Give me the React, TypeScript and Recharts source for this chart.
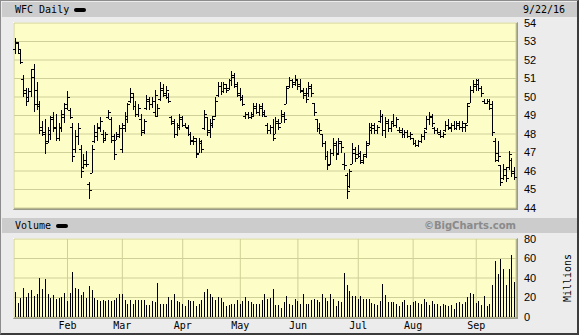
import React from "react";
import { ComposedChart, Bar, XAxis, YAxis, CartesianGrid } from "recharts";

// WFC daily, Jan 4 - Sep 22 2016 (one entry per trading day)
const OPEN = [
  52.6, 52.9, 52.4, 51.0, 50.2, 50.0, 50.3, 51.5, 50.4, 49.5,
  48.4, 48.0, 47.6, 48.0, 48.9, 48.4, 47.8, 48.3, 48.9, 49.4,
  49.3, 48.4, 47.2, 47.9, 47.2, 46.2, 46.4, 45.3, 45.9, 47.6,
  47.9, 48.3, 48.0, 47.8, 48.9, 48.8, 47.9, 47.7, 47.9, 47.2,
  48.3, 48.8, 49.8, 50.0, 49.5, 49.1, 48.8, 48.2, 49.4, 49.8,
  49.6, 49.2, 49.0, 49.9, 50.4, 50.1, 50.0, 48.9, 48.6, 48.0,
  48.4, 48.8, 48.5, 48.3, 48.0, 47.7, 47.6, 47.0, 47.5, 48.3,
  48.9, 48.2, 48.5, 49.0, 50.1, 50.6, 50.3, 50.5, 50.5, 50.9,
  51.1, 50.6, 50.1, 49.9, 49.0, 49.1, 48.9, 49.0, 49.4, 49.2,
  49.4, 49.2, 48.5, 48.2, 48.4, 48.0, 48.6, 48.6, 49.0, 49.6,
  50.6, 50.9, 50.8, 50.9, 50.7, 50.3, 50.2, 50.2, 50.5, 49.7,
  48.8, 48.3, 48.0, 47.5, 46.8, 46.4, 47.0, 47.4, 47.0, 47.5,
  46.4, 45.8, 45.2, 46.4, 47.0, 46.7, 46.8, 46.5, 46.9, 47.5,
  48.2, 48.3, 48.2, 48.7, 49.0, 48.2, 48.6, 48.3, 48.7, 48.5,
  48.2, 48.2, 48.0, 48.1, 47.9, 47.8, 47.5, 47.4, 47.6, 47.9,
  48.3, 48.8, 48.9, 48.3, 48.2, 48.0, 47.9, 48.2, 48.5, 48.3,
  48.5, 48.3, 48.5, 48.4, 48.4, 48.6, 49.7, 50.4, 50.6, 50.7,
  50.5, 49.8, 49.7, 49.8, 49.6, 47.6, 47.0, 46.3, 45.6, 45.8,
  46.2, 46.6, 46.0,
];

const HIGH = [
  53.2, 53.0, 52.6, 51.2, 50.5, 50.5, 51.5, 51.8, 50.8, 49.8,
  48.7, 48.8, 48.4, 49.0, 49.2, 49.1, 48.6, 49.3, 49.7, 50.3,
  49.4, 48.6, 48.2, 48.6, 47.4, 46.9, 47.1, 45.4, 47.4, 48.5,
  48.6, 48.9, 48.2, 48.1, 49.3, 48.9, 48.0, 48.1, 48.5, 48.6,
  49.2, 49.7, 50.5, 50.2, 49.8, 49.6, 49.1, 48.8, 50.1, 50.0,
  50.0, 50.4, 49.6, 50.8, 50.7, 50.6, 50.2, 49.0, 48.8, 48.6,
  49.1, 49.0, 48.6, 48.5, 48.1, 47.9, 47.8, 47.8, 47.7, 49.3,
  48.9, 48.8, 49.0, 50.0, 50.8, 50.8, 50.8, 50.7, 51.0, 51.4,
  51.3, 50.8, 50.5, 50.1, 49.2, 49.2, 49.2, 49.7, 49.7, 49.6,
  49.7, 49.3, 48.6, 48.5, 48.8, 48.9, 48.8, 49.3, 49.2, 50.6,
  51.1, 51.0, 51.2, 51.0, 51.0, 50.5, 50.5, 50.8, 50.7, 49.7,
  48.8, 48.6, 48.0, 47.6, 47.1, 47.2, 47.8, 47.6, 47.8, 47.6,
  47.0, 45.9, 46.1, 47.5, 47.3, 47.4, 47.1, 46.9, 47.6, 48.6,
  48.6, 48.6, 48.5, 49.3, 49.1, 48.9, 48.8, 48.7, 49.1, 48.9,
  48.4, 48.3, 48.2, 48.2, 48.1, 47.8, 47.7, 47.7, 48.0, 48.2,
  49.0, 49.2, 49.1, 48.4, 48.3, 48.2, 48.1, 48.7, 48.8, 48.6,
  48.7, 48.7, 48.7, 48.7, 48.6, 49.7, 50.6, 50.9, 51.0, 51.0,
  50.6, 49.9, 49.9, 49.9, 49.8, 47.8, 47.6, 46.3, 46.4, 46.2,
  47.1, 46.7, 46.2,
];

const LOW = [
  52.3, 52.4, 51.8, 50.0, 49.5, 49.8, 50.0, 49.2, 49.3, 48.0,
  47.9, 46.9, 47.5, 47.7, 48.1, 47.6, 47.6, 48.1, 48.6, 49.3,
  48.8, 46.5, 47.0, 47.4, 45.6, 46.1, 46.2, 44.5, 45.9, 47.5,
  47.6, 48.1, 47.5, 47.7, 48.8, 47.5, 46.6, 47.7, 47.8, 47.0,
  48.1, 48.6, 49.7, 49.3, 48.9, 48.9, 47.9, 48.0, 49.3, 49.3,
  49.4, 48.9, 48.9, 49.8, 50.0, 49.9, 49.7, 48.5, 47.8, 47.9,
  48.2, 48.4, 48.3, 47.9, 47.4, 47.4, 46.7, 47.0, 47.0, 48.2,
  47.9, 47.8, 48.3, 48.9, 50.0, 50.1, 50.2, 50.2, 50.4, 50.6,
  50.5, 50.0, 49.8, 49.5, 48.8, 48.8, 48.8, 48.9, 49.1, 49.0,
  48.9, 48.9, 48.0, 48.0, 47.6, 48.0, 48.2, 48.6, 48.6, 49.6,
  50.5, 50.5, 50.6, 50.4, 50.2, 49.9, 49.7, 50.0, 50.0, 49.0,
  48.1, 48.0, 47.3, 46.6, 46.05, 46.3, 46.8, 46.6, 46.9, 47.0,
  46.05, 44.5, 45.1, 46.4, 46.5, 46.7, 46.4, 46.4, 46.7, 47.4,
  48.0, 48.0, 48.0, 48.6, 47.9, 47.8, 48.1, 48.1, 48.4, 48.3,
  48.05, 47.8, 47.8, 47.8, 47.7, 47.4, 47.3, 47.3, 47.5, 47.7,
  48.2, 48.5, 48.4, 48.0, 48.0, 47.8, 47.8, 48.1, 48.2, 48.1,
  48.2, 48.2, 48.2, 48.1, 48.1, 48.6, 49.7, 50.2, 50.3, 50.3,
  50.0, 49.6, 49.6, 49.3, 47.9, 46.5, 46.5, 45.2, 45.5, 45.4,
  46.05, 45.7, 45.5,
];

const CLOSE = [
  53.0, 52.6, 51.9, 50.4, 49.8, 50.3, 51.1, 49.6, 49.6, 48.2,
  48.1, 47.5, 48.2, 48.8, 48.3, 47.8, 48.4, 49.1, 49.6, 50.0,
  48.9, 46.8, 47.9, 48.3, 46.0, 46.6, 46.4, 45.0, 47.2, 48.1,
  48.4, 48.7, 47.7, 48.0, 49.2, 47.7, 46.9, 48.0, 48.3, 48.5,
  49.0, 49.6, 50.2, 49.5, 49.1, 49.4, 48.1, 48.7, 49.9, 49.6,
  49.8, 50.1, 49.4, 50.5, 50.2, 50.4, 49.8, 48.7, 48.0, 48.5,
  48.9, 48.5, 48.4, 48.0, 47.6, 47.8, 46.9, 47.6, 47.2, 49.1,
  48.1, 48.6, 48.8, 49.8, 50.6, 50.3, 50.7, 50.4, 50.9, 51.2,
  50.7, 50.2, 50.0, 49.6, 49.1, 48.9, 49.1, 49.5, 49.2, 49.5,
  49.1, 49.0, 48.2, 48.4, 47.8, 48.7, 48.4, 49.1, 48.8, 50.5,
  50.9, 50.7, 51.0, 50.6, 50.4, 50.1, 49.9, 50.6, 50.2, 49.2,
  48.3, 48.2, 47.5, 46.8, 46.3, 47.0, 47.5, 46.9, 47.6, 47.3,
  46.3, 44.9, 46.0, 47.2, 46.9, 47.0, 46.6, 46.8, 47.4, 48.4,
  48.5, 48.2, 48.4, 49.0, 48.2, 48.7, 48.3, 48.6, 48.5, 48.8,
  48.1, 48.0, 48.1, 47.9, 48.0, 47.5, 47.4, 47.6, 47.9, 48.1,
  48.8, 49.0, 48.6, 48.2, 48.1, 47.9, 48.0, 48.5, 48.4, 48.5,
  48.3, 48.6, 48.4, 48.6, 48.5, 49.5, 50.4, 50.7, 50.9, 50.5,
  50.2, 49.7, 49.8, 49.4, 48.1, 46.6, 46.8, 45.4, 46.1, 45.6,
  46.9, 45.9, 45.7,
];

// volume in millions of shares
const VOLUME = [
  25.7, 14.4, 19.5, 29.8, 20.5, 24.7, 28, 21.2, 23.3, 40,
  29, 39, 23.6, 19.5, 22.3, 18.5, 19.5, 20.2, 24.7, 16,
  24.7, 46.2, 29.8, 28.8, 22.3, 25.3, 19.5, 31.8, 27.4, 19.2,
  17.1, 16.8, 17.8, 16, 17.1, 16, 17.8, 19.5, 23.3, 23.3,
  17.1, 13, 17.1, 13, 17.1, 17.1, 17.1, 17.1, 12.3, 12.7,
  16, 15.4, 35, 13, 13, 13.7, 20.2, 17.1, 23.3, 16,
  15.4, 13.7, 11, 17.1, 16.4, 16.4, 11.3, 13.7, 17.1, 25.7,
  28.8, 23.3, 20.2, 17.1, 20.5, 19.2, 15, 11, 12, 13.7,
  13.7, 17.1, 13.7, 16, 20.5, 16, 15, 13, 13, 13,
  17.1, 24, 18.1, 19.5, 28.4, 12.7, 12, 9.6, 15, 21.2,
  13, 12, 18, 16, 13, 24, 13.7, 13.7, 17.1, 18,
  17.1, 15, 24, 19.5, 16, 24, 18.5, 11, 16, 15,
  45, 33, 26.4, 21.2, 21.6, 18.5, 21.2, 18, 18, 18.8,
  14.7, 13.7, 12.7, 16, 33.6, 23, 15, 15, 15, 13,
  11, 15, 17.1, 12, 12, 15, 16, 14.4, 13.7, 18,
  15, 12, 16, 13.7, 13, 11.6, 13, 12, 11.6, 12,
  7.9, 14.4, 15.4, 13.7, 15, 20.5, 24.7, 23.6, 14.4, 16,
  12, 21.2, 11, 13.7, 33, 57, 44.5, 59, 49.7, 32.5,
  49.7, 63.4, 36,
];

// first trading day of each month (index into the arrays above)
const MONTH_TICKS = [19, 39, 61, 82, 103, 125, 145, 168];
const MONTH_LABELS = ["Feb", "Mar", "Apr", "May", "Jun", "Jul", "Aug", "Sep"];
const PRICE_TICKS = [44, 45, 46, 47, 48, 49, 50, 51, 52, 53, 54];
const VOLUME_TICKS = [0, 20, 40, 60, 80];

const MONO = "'DejaVu Sans Mono', monospace";
const SANS = "'Liberation Sans', Arial, sans-serif";
const GRID = "#cfcf98";
const PLOT_BG = "#fdfdc8";

function OhlcBar(props: any) {
  const { x, y, width, height, payload } = props;
  if (x == null || !payload) return null;
  const top = Math.min(y, y + height);
  const bottom = Math.max(y, y + height);
  const span = payload.high - payload.low || 1;
  const toY = (v: number) => top + ((payload.high - v) / span) * (bottom - top);
  const cx = Math.floor(x + width / 2);
  const yo = Math.round(toY(payload.open));
  const yc = Math.round(toY(payload.close));
  const t = Math.round(top);
  const h = Math.max(1, Math.round(bottom) - t);
  return (
    <g>
      <rect x={cx} y={t} width={1} height={h} fill="#000" />
      <rect x={cx - 2} y={yo} width={2} height={1} fill="#000" />
      <rect x={cx + 1} y={yc} width={2} height={1} fill="#000" />
    </g>
  );
}

function VolumeBar(props: any) {
  const { x, y, width, height } = props;
  if (x == null) return null;
  const cx = Math.floor(x + width / 2);
  const t = Math.round(y);
  return <rect x={cx} y={t} width={1} height={Math.max(0, Math.round(y + height) - t)} fill="#000" />;
}

export default function App() {
  const priceData = OPEN.map((o, i) => ({
    d: i,
    open: o,
    high: HIGH[i],
    low: LOW[i],
    close: CLOSE[i],
    range: [LOW[i], HIGH[i]],
  }));
  const volumeData = VOLUME.map((v, i) => ({ d: i, vol: v }));

  const yTick = { fontSize: 11, fontFamily: SANS, fill: "#000" };
  const abs: React.CSSProperties = { position: "absolute" };

  return (
    <div style={{ ...abs, left: 0, top: 0, width: 579, height: 335, background: "#ececec", overflow: "hidden" }}>
      {/* header bands */}
      <div style={{ ...abs, left: 2, top: 2, width: 575, height: 15, background: "#cccccc" }} />
      <div style={{ ...abs, left: 2, top: 218, width: 575, height: 15, background: "#cccccc" }} />
      <div style={{ ...abs, left: 15, top: 3, fontFamily: MONO, fontSize: 10, lineHeight: "13px", color: "#000" }}>
        WFC Daily
      </div>
      <div style={{ ...abs, left: 74, top: 8, width: 12, height: 4, borderRadius: 2, background: "#000" }} />
      <div style={{ ...abs, left: 523, top: 3, fontFamily: MONO, fontSize: 10, lineHeight: "13px", color: "#000" }}>
        9/22/16
      </div>
      <div style={{ ...abs, left: 15, top: 219, fontFamily: MONO, fontSize: 10, lineHeight: "13px", color: "#000" }}>
        Volume
      </div>
      <div style={{ ...abs, left: 56, top: 224, width: 12, height: 4, borderRadius: 2, background: "#000" }} />
      <div
        style={{
          ...abs,
          right: 63,
          top: 219,
          fontFamily: "'DejaVu Sans', sans-serif",
          fontWeight: "bold",
          fontSize: 10,
          lineHeight: "13px",
          color: "#8a8a8a",
        }}
      >
        ©BigCharts.com
      </div>

      {/* plot frames */}
      <div
        style={{
          ...abs, left: 13, top: 22, width: 505, height: 188, boxSizing: "border-box",
          borderTop: "1px solid #fff", borderLeft: "1px solid #fff",
          borderRight: "2px solid #9a9a88", borderBottom: "2px solid #9a9a88",
        }}
      />
      <div
        style={{
          ...abs, left: 13, top: 238, width: 505, height: 81, boxSizing: "border-box",
          borderTop: "1px solid #fff", borderLeft: "1px solid #fff",
          borderRight: "2px solid #9a9a88", borderBottom: "2px solid #9a9a88",
        }}
      />

      {/* price panel */}
      <div style={{ ...abs, left: 0, top: 0 }}>
        <ComposedChart width={579} height={216} data={priceData} margin={{ top: 23, right: 0, bottom: 8, left: 14 }}>
          <CartesianGrid stroke={GRID} fill={PLOT_BG} fillOpacity={1} />
          <XAxis
            dataKey="d"
            type="category"
            ticks={MONTH_TICKS}
            interval={0}
            height={0}
            tick={false}
            tickLine={false}
            axisLine={false}
          />
          <YAxis
            orientation="right"
            domain={[44, 54]}
            ticks={PRICE_TICKS}
            interval={0}
            width={63}
            axisLine={false}
            tickLine={false}
            tickSize={6}
            tickMargin={2}
            tick={yTick}
            allowDataOverflow
          />
          <Bar dataKey="range" shape={<OhlcBar />} isAnimationActive={false} />
        </ComposedChart>
      </div>

      {/* volume panel */}
      <div style={{ ...abs, left: 0, top: 230 }}>
        <ComposedChart width={579} height={105} data={volumeData} margin={{ top: 9, right: 0, bottom: 0, left: 14 }}>
          <CartesianGrid stroke={GRID} fill={PLOT_BG} fillOpacity={1} />
          <XAxis
            dataKey="d"
            type="category"
            ticks={MONTH_TICKS}
            interval={0}
            height={18}
            tickLine={false}
            axisLine={false}
            tickSize={0}
            tickMargin={5}
            tickFormatter={(v: number) => MONTH_LABELS[MONTH_TICKS.indexOf(v)] ?? ""}
            tick={{ fontSize: 10, fontFamily: MONO, fill: "#000" }}
          />
          <YAxis
            orientation="right"
            domain={[0, 80]}
            ticks={VOLUME_TICKS}
            interval={0}
            width={63}
            axisLine={false}
            tickLine={false}
            tickSize={6}
            tickMargin={2}
            tick={yTick}
          />
          <Bar dataKey="vol" shape={<VolumeBar />} isAnimationActive={false} />
        </ComposedChart>
      </div>

      <div
        style={{
          ...abs, left: 567, top: 278, transform: "translate(-50%, -50%) rotate(-90deg)",
          fontFamily: MONO, fontSize: 10, whiteSpace: "nowrap", color: "#000",
        }}
      >
        Millions
      </div>

      {/* outer frame */}
      <div
        style={{
          ...abs, left: 0, top: 0, width: 579, height: 335, boxSizing: "border-box",
          borderTop: "1px solid #8c8c8c", borderLeft: "1px solid #8c8c8c",
          borderRight: "2px solid #3c3c3c", borderBottom: "2px solid #3c3c3c",
        }}
      />
    </div>
  );
}
